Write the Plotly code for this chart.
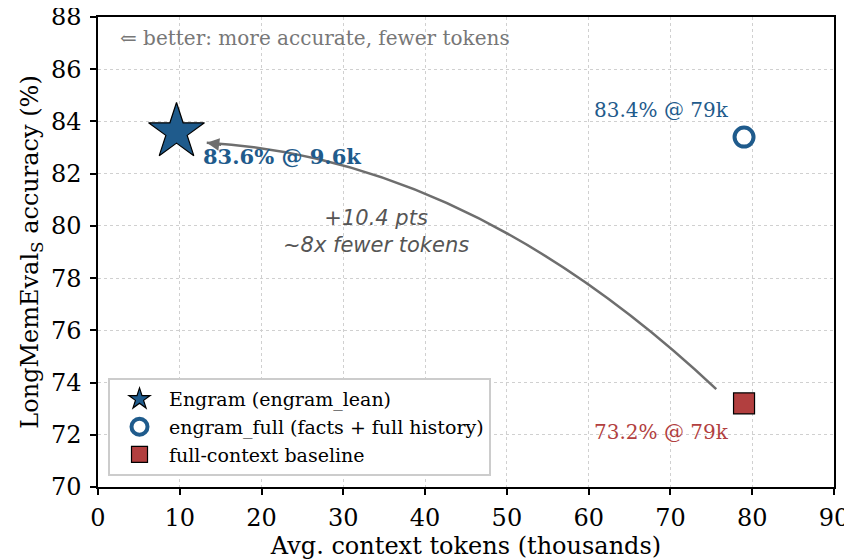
import plotly.graph_objects as go

# ---- data ----
series_names = ["Engram (engram_lean)", "engram_full (facts + full history)", "full-context baseline"]
tokens_k = [9.6, 79.0, 79.0]
accuracy = [83.6, 83.4, 73.2]
point_labels = ["<b>83.6% @ 9.6k</b>", "83.4% @ 79k", "73.2% @ 79k"]
x_ticks = [0, 10, 20, 30, 40, 50, 60, 70, 80, 90]
y_ticks = [70, 72, 74, 76, 78, 80, 82, 84, 86, 88]

BLUE = "#1f5b8c"
RED = "#b23f3f"
GRAY = "#6e6e6e"
SERIF = "DejaVu Serif"

fig = go.Figure()

# arrow curve (quadratic bezier in data coords)
arrow_start = (75.6, 73.75)
arrow_ctrl = (45.5, 82.6)
arrow_end = (13.3, 83.18)
fig.add_shape(type="path", xref="x", yref="y",
              path=f"M {arrow_start[0]},{arrow_start[1]} Q {arrow_ctrl[0]},{arrow_ctrl[1]} {arrow_end[0]},{arrow_end[1]}",
              line=dict(color=GRAY, width=2.5), layer="above")
fig.add_annotation(x=arrow_end[0], y=arrow_end[1], ax=arrow_end[0] + 2.0, ay=arrow_end[1] - 0.08,
                   xref="x", yref="y", axref="x", ayref="y", text=" ", showarrow=True,
                   arrowhead=2, arrowsize=1.0, arrowwidth=2.5, arrowcolor=GRAY, font=dict(size=2))

fig.add_trace(go.Scatter(x=[tokens_k[0]], y=[accuracy[0]], mode="markers", name=series_names[0],
                         marker=dict(symbol="star", size=42, color=BLUE, line=dict(color="black", width=1.2))))
fig.add_trace(go.Scatter(x=[tokens_k[1]], y=[accuracy[1]], mode="markers", name=series_names[1],
                         marker=dict(symbol="circle-open", size=19, color=BLUE, line=dict(color=BLUE, width=4))))
fig.add_trace(go.Scatter(x=[tokens_k[2]], y=[accuracy[2]], mode="markers", name=series_names[2],
                         marker=dict(symbol="square", size=21, color=RED, line=dict(color="black", width=1.2))))

# point labels
fig.add_annotation(x=tokens_k[0], y=accuracy[0], xref="x", yref="y", text=point_labels[0], showarrow=False,
                   xanchor="left", yanchor="middle", xshift=24, yshift=-25,
                   font=dict(family=SERIF, size=21, color=BLUE))
fig.add_annotation(x=tokens_k[1], y=accuracy[1], xref="x", yref="y", text=point_labels[1], showarrow=False,
                   xanchor="right", yanchor="middle", xshift=-13, yshift=27,
                   font=dict(family=SERIF, size=20, color=BLUE))
fig.add_annotation(x=tokens_k[2], y=accuracy[2], xref="x", yref="y", text=point_labels[2], showarrow=False,
                   xanchor="right", yanchor="middle", xshift=-13, yshift=-29,
                   font=dict(family=SERIF, size=20, color=RED))

# gain annotation
fig.add_annotation(x=34.0, y=79.8, xref="x", yref="y", text="<i>+10.4 pts</i><br><i>~8x fewer tokens</i>",
                   showarrow=False, font=dict(family="DejaVu Sans", size=21, color="#555555"), align="center")
fig.add_annotation(x=0.027, y=0.985, xref="paper", yref="paper", text="⇐ better: more accurate, fewer tokens",
                   showarrow=False, xanchor="left", yanchor="top",
                   font=dict(family=SERIF, size=20, color="#777777"))

axis_common = dict(showline=True, linecolor="black", linewidth=1.5, mirror=True,
                   ticks="outside", ticklen=6, tickwidth=1.5, tickcolor="black",
                   showgrid=True, gridcolor="#d0d0d0", griddash="dot", gridwidth=1,
                   zeroline=False, automargin=False, ticklabeloverflow="allow",
                   tickfont=dict(family=SERIF, size=24, color="black"))

fig.update_xaxes(range=[0, 90], tickvals=x_ticks, ticklabelstandoff=2,
                 title=dict(text="Avg. context tokens (thousands)",
                            font=dict(family=SERIF, size=24, color="black"), standoff=4), **axis_common)
fig.update_yaxes(range=[70, 88], tickvals=y_ticks, ticklabelstandoff=4,
                 title=dict(text="LongMemEval<sub>S</sub> accuracy (%)",
                            font=dict(family=SERIF, size=24, color="black"), standoff=6), **axis_common)

fig.update_layout(
    width=844, height=552,
    margin=dict(l=90, r=18, t=9, b=73),
    plot_bgcolor="white", paper_bgcolor="white",
    legend=dict(x=0.0136, y=0.023, xanchor="left", yanchor="bottom",
                bgcolor="white", bordercolor="#cccccc", borderwidth=2,
                font=dict(family=SERIF, size=19, color="black"), itemsizing="trace",
                tracegroupgap=0, itemwidth=49),
)

fig.write_html("out.html")
